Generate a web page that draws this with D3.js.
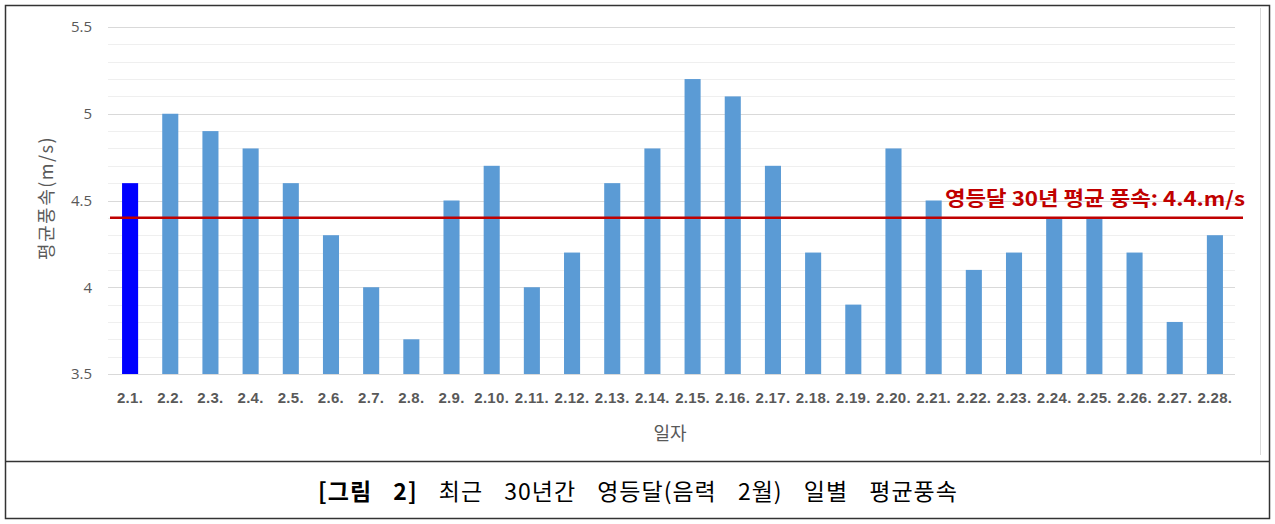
<!DOCTYPE html>
<html>
<head>
<meta charset="utf-8">
<script src="https://cdn.jsdelivr.net/npm/d3@7"></script>
<style>
  body { margin: 0; background: #fff; }
  svg { display: block; }
</style>
</head>
<body>
<script>
// 영등달 일별 평균풍속
var days = ["2.1.","2.2.","2.3.","2.4.","2.5.","2.6.","2.7.","2.8.","2.9.","2.10.",
            "2.11.","2.12.","2.13.","2.14.","2.15.","2.16.","2.17.","2.18.","2.19.","2.20.",
            "2.21.","2.22.","2.23.","2.24.","2.25.","2.26.","2.27.","2.28."];
var speeds = [4.6,5.0,4.9,4.8,4.6,4.3,4.0,3.7,4.5,4.7,
              4.0,4.2,4.6,4.8,5.2,5.1,4.7,4.2,3.9,4.8,
              4.5,4.1,4.2,4.4,4.4,4.2,3.8,4.3];
var yTicks = [3.5, 4, 4.5, 5, 5.5];
var avgSpeed = 4.4;

var W = 1275, H = 524;
var svg = d3.select("body").append("svg")
    .attr("width", W)
    .attr("height", H);

// frame
svg.append("rect")
    .attr("x", 5.5).attr("y", 5.5)
    .attr("width", 1264).attr("height", 513)
    .attr("fill", "none").attr("stroke", "#333").attr("stroke-width", 1.5);
svg.append("line")
    .attr("x1", 5).attr("x2", 1270).attr("y1", 461.5).attr("y2", 461.5)
    .attr("stroke", "#333").attr("stroke-width", 1.5);
svg.append("line")
    .attr("x1", 1260.5).attr("x2", 1260.5).attr("y1", 8).attr("y2", 455)
    .attr("stroke", "#d9d9d9");

var x = d3.scaleBand()
    .domain(days)
    .range([110, 1235])
    .paddingInner(0.6)
    .paddingOuter(0.3);

var y = d3.scaleLinear()
    .domain([3.5, 5.5])
    .range([374, 27]);

// minor grid
var minor = d3.range(35, 56).map(function(d) { return d / 10; });
svg.append("g").selectAll("line")
    .data(minor)
    .enter().append("line")
    .attr("x1", 108).attr("x2", 1235)
    .attr("y1", function(d) { return Math.round(y(d)) + 0.5; })
    .attr("y2", function(d) { return Math.round(y(d)) + 0.5; })
    .attr("stroke", "#efefef");

// major grid
svg.append("g").selectAll("line")
    .data(yTicks)
    .enter().append("line")
    .attr("x1", 108).attr("x2", 1235)
    .attr("y1", function(d) { return Math.round(y(d)) + 0.5; })
    .attr("y2", function(d) { return Math.round(y(d)) + 0.5; })
    .attr("stroke", "#d9d9d9");

// y tick labels
svg.append("g").selectAll("text")
    .data(yTicks)
    .enter().append("text")
    .attr("x", 92)
    .attr("y", function(d) { return y(d); })
    .attr("dy", "0.36em")
    .attr("text-anchor", "end")
    .attr("font-family", "'Open Sans', 'Noto Sans', sans-serif")
    .attr("font-size", 15)
    .attr("fill", "#595959")
    .text(function(d) { return d; });

// bars
svg.append("g").selectAll("rect")
    .data(speeds)
    .enter().append("rect")
    .attr("x", function(d, i) { return x(days[i]); })
    .attr("width", x.bandwidth())
    .attr("y", function(d) { return y(d); })
    .attr("height", function(d) { return y(3.5) - y(d); })
    .attr("fill", function(d, i) { return i === 0 ? "#0000ff" : "#5b9bd5"; });

// x tick labels
svg.append("g").selectAll("text")
    .data(days)
    .enter().append("text")
    .attr("x", function(d) { return x(d) + x.bandwidth() / 2; })
    .attr("y", 403)
    .attr("text-anchor", "middle")
    .attr("font-family", "'Liberation Sans', sans-serif")
    .attr("font-weight", "bold")
    .attr("font-size", 15)
    .attr("letter-spacing", 0.3)
    .attr("fill", "#595959")
    .text(function(d) { return d; });

// average line
svg.append("line")
    .attr("x1", 110).attr("x2", 1243)
    .attr("y1", y(avgSpeed)).attr("y2", y(avgSpeed))
    .attr("stroke", "#c00000").attr("stroke-width", 2.5);

svg.append("text")
    .attr("x", 945).attr("y", 206)
    .attr("font-family", "'Noto Sans CJK KR', sans-serif")
    .attr("font-weight", "bold")
    .attr("font-size", 20)
    .attr("textLength", 300)
    .attr("lengthAdjust", "spacingAndGlyphs")
    .attr("fill", "#c00000")
    .text("영등달 30년 평균 풍속: " + avgSpeed + ".m/s");

// axis titles
svg.append("text")
    .attr("x", 670).attr("y", 440)
    .attr("text-anchor", "middle")
    .attr("font-family", "'Noto Sans CJK KR', sans-serif")
    .attr("font-size", 18)
    .attr("fill", "#595959")
    .text("일자");

svg.append("text")
    .attr("transform", "translate(53,198) rotate(-90)")
    .attr("text-anchor", "middle")
    .attr("font-family", "'Noto Sans CJK KR', sans-serif")
    .attr("font-size", 18)
    .attr("letter-spacing", 1.5)
    .attr("fill", "#595959")
    .text("평균풍속(m/s)");

// caption
var cap = svg.append("text")
    .attr("x", 638).attr("y", 500)
    .attr("text-anchor", "middle")
    .attr("font-family", "'Noto Sans CJK KR', sans-serif")
    .attr("font-size", 23)
    .attr("letter-spacing", 1)
    .attr("word-spacing", 15)
    .attr("fill", "#000");
cap.append("tspan").attr("font-weight", "bold").text("[그림 2]");
cap.append("tspan").text(" 최근 30년간 영등달(음력 2월) 일별 평균풍속");
</script>
</body>
</html>
